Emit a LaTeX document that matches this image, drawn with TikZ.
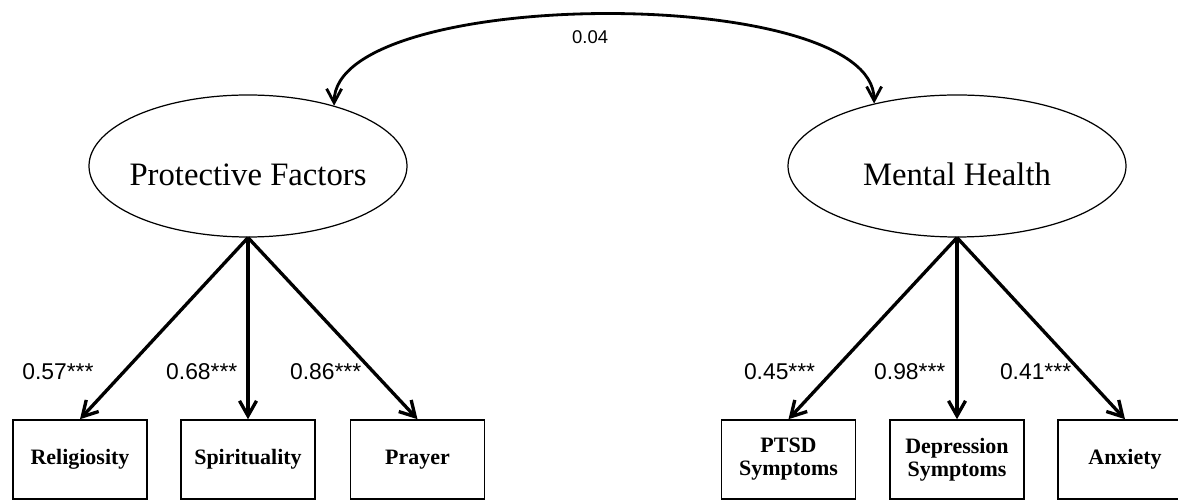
\documentclass[tikz,border=0pt]{standalone}
\usepackage{fontspec}
\setmainfont{Liberation Serif}
\setsansfont{Liberation Sans}
\usepackage{tikz}
\usetikzlibrary{shapes.geometric, arrows.meta, positioning}

\begin{document}
\begin{tikzpicture}[
    latent/.style={
        ellipse,
        draw,
        line width=0.7pt,
        inner sep=0pt,
        minimum width=#1,
        minimum height=2.84cm,
        text height=0.8cm,
        text depth=0pt,
        font=\fontsize{18.6}{22}\selectfont
    },
    indicator/.style={
        rectangle,
        draw,
        line width=0.9pt,
        minimum width=2.68cm,
        minimum height=1.58cm,
        align=center,
        font=\bfseries\fontsize{12.5}{13}\selectfont
    },
    loading/.style={inner sep=0pt, font=\sffamily\fontsize{13}{15}\selectfont},
    arrow/.style={-{Straight Barb[length=0.3cm, width=0.34cm]}, line width=1.9pt},
    corr/.style={{Straight Barb[length=0.28cm, width=0.3cm]}-{Straight Barb[length=0.28cm, width=0.3cm]}, line width=1.6pt}
]
    \useasboundingbox (0,0) rectangle (23.56,10.02);

    \node[latent=6.36cm] (protective) at (4.96,6.70) {\makebox[0pt]{Protective Factors}};
    \node[latent=6.76cm] (mental) at (19.14,6.70) {\makebox[0pt]{Mental Health}};

    \node[indicator] (religiosity) at (1.60,0.83) {Religiosity};
    \node[indicator] (spirituality) at (4.96,0.83) {Spirituality};
    \node[indicator] (prayer) at (8.35,0.83) {Prayer};
    \node[indicator] (ptsd) at (15.77,0.83) {PTSD\\Symptoms};
    \node[indicator] (depression) at (19.14,0.83) {Depression\\Symptoms};
    \node[indicator] (anxiety) at (22.50,0.83) {Anxiety};

    % correlation between the two factors
    \draw[corr] (protective.35) .. controls +(0,2.4) and +(0,2.4) .. node[pos=0.5, below=0.3cm, xshift=-0.28cm, inner sep=0pt, font=\sffamily\fontsize{10.5}{12}\selectfont] (r) {0.04} (mental.143.5);

    % loadings
    \draw[arrow] (protective.south) -- node[pos=0.74, left=0.57cm, loading] (l1) {0.57***} (religiosity.north);
    \draw[arrow] (protective.south) -- node[pos=0.74, left=0.18cm, loading] (l2) {0.68***} (spirituality.north);
    \draw[arrow] (protective.south) -- node[pos=0.74, left=0.21cm, loading] (l3) {0.86***} (prayer.north);
    \draw[arrow] (mental.south) -- node[pos=0.74, left=0.31cm, loading] (l4) {0.45***} (ptsd.north);
    \draw[arrow] (mental.south) -- node[pos=0.74, left=0.2cm, loading] (l5) {0.98***} (depression.north);
    \draw[arrow] (mental.south) -- node[pos=0.74, left=0.17cm, loading] (l6) {0.41***} (anxiety.north);
\end{tikzpicture}
\end{document}
